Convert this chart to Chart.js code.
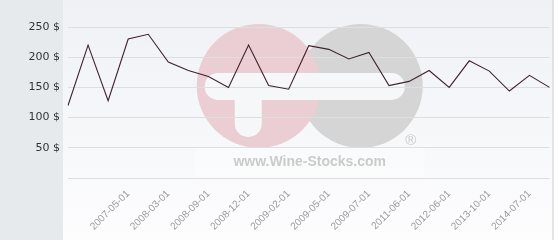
<!DOCTYPE html>
<html>
<head>
<meta charset="utf-8">
<script src="https://cdn.jsdelivr.net/npm/chart.js@4"></script>
<style>
  body { margin: 0; background: #fff; }
  canvas { display: block; }
</style>
</head>
<body>
<canvas id="priceChart" width="560" height="240"></canvas>
<script>
// Dates on the x axis (only every other point carries a label)
let dates = ["", "", "", "2007-05-01", "", "2008-03-01", "", "2008-09-01", "", "2008-12-01",
    "", "2009-02-01", "", "2009-05-01", "", "2009-07-01", "", "2011-06-01", "", "2012-06-01",
    "", "2013-10-01", "", "2014-07-01", ""];

// Price in $
let prices = [120, 220, 128, 230, 238, 192, 178, 168, 150, 220,
    153, 147, 219, 213, 197, 208, 153, 160, 178, 150,
    194, 177, 144, 170, 150];

let yTicks = [0, 50, 100, 150, 200, 250];

// Backgrounds and the faded logo behind the line
const backdrop = {
    id: "backdrop",
    beforeDraw(chart) {
        let ctx = chart.ctx;
        let area = chart.chartArea;
        ctx.save();
        ctx.fillStyle = "#e6eaed";
        ctx.fillRect(0, 0, area.left - 5, chart.height);

        let grad = ctx.createLinearGradient(0, 0, 0, chart.height);
        grad.addColorStop(0, "#eff1f5");
        grad.addColorStop(1, "#fdfdfe");
        ctx.fillStyle = grad;
        ctx.fillRect(area.left - 5, 0, area.right - area.left + 8, chart.height);
        ctx.fillStyle = "#c9c9c9";
        ctx.fillRect(area.right + 3, 0, 1, chart.height);

        // watermark
        let cx = area.left + (area.right - area.left) * 0.502;
        let cy = area.top + (area.bottom - area.top) * 0.39;
        ctx.fillStyle = "#d5d5d5";
        ctx.beginPath();
        ctx.arc(cx + 51, cy, 62, 0, Math.PI * 2);
        ctx.fill();
        ctx.fillStyle = "#ebcdd4";
        ctx.beginPath();
        ctx.arc(cx - 51, cy, 62, 0, Math.PI * 2);
        ctx.fill();

        ctx.fillStyle = "#f6f7f9";
        ctx.beginPath();
        ctx.roundRect(cx - 105, cy - 13, 200, 27, 13);
        ctx.fill();
        ctx.beginPath();
        ctx.roundRect(cx - 75, cy - 13, 27, 64, 13);
        ctx.fill();

        ctx.fillStyle = "rgba(255,255,255,0.35)";
        ctx.fillRect(cx - 115, cy + 62, 230, 30);
        ctx.fillStyle = "#cbcbcb";
        ctx.font = "bold 14px 'Liberation Sans', Arial, sans-serif";
        ctx.textAlign = "center";
        ctx.textBaseline = "alphabetic";
        ctx.fillText("www.Wine-Stocks.com", cx, cy + 80);
        ctx.font = "15px 'Liberation Sans', Arial, sans-serif";
        ctx.fillText("\u00AE", cx + 101, cy + 59);
        ctx.restore();
    }
};

let ctx = document.getElementById("priceChart").getContext("2d");
new Chart(ctx, {
    type: "line",
    data: {
        labels: dates,
        datasets: [{
            data: prices,
            borderColor: "#3e2230",
            borderWidth: 1.1,
            pointRadius: 0,
            tension: 0,
            fill: false
        }]
    },
    options: {
        responsive: false,
        animation: false,
        layout: { padding: { top: 27, right: 5, left: 0, bottom: 0 } },
        plugins: {
            legend: { display: false },
            tooltip: { enabled: false }
        },
        scales: {
            x: {
                offset: false,
                grid: { display: false },
                border: { display: false },
                ticks: {
                    autoSkip: false,
                    maxRotation: 45,
                    minRotation: 45,
                    padding: 2,
                    color: "#9a9a9a",
                    font: { family: "'Liberation Sans', Arial, sans-serif", size: 10 }
                },
                afterFit(scale) { scale.height = 62; }
            },
            y: {
                min: 0,
                max: 250,
                afterBuildTicks(scale) {
                    scale.ticks = yTicks.map(v => ({ value: v }));
                },
                grid: { color: "#dedede", drawTicks: false },
                border: { display: false },
                ticks: {
                    padding: 8,
                    color: "#333",
                    font: { family: "'DejaVu Sans', sans-serif", size: 11 },
                    callback: v => v === 0 ? "" : v + " $"
                },
                afterFit(scale) { scale.width = 68; }
            }
        }
    },
    plugins: [backdrop]
});
</script>
</body>
</html>
